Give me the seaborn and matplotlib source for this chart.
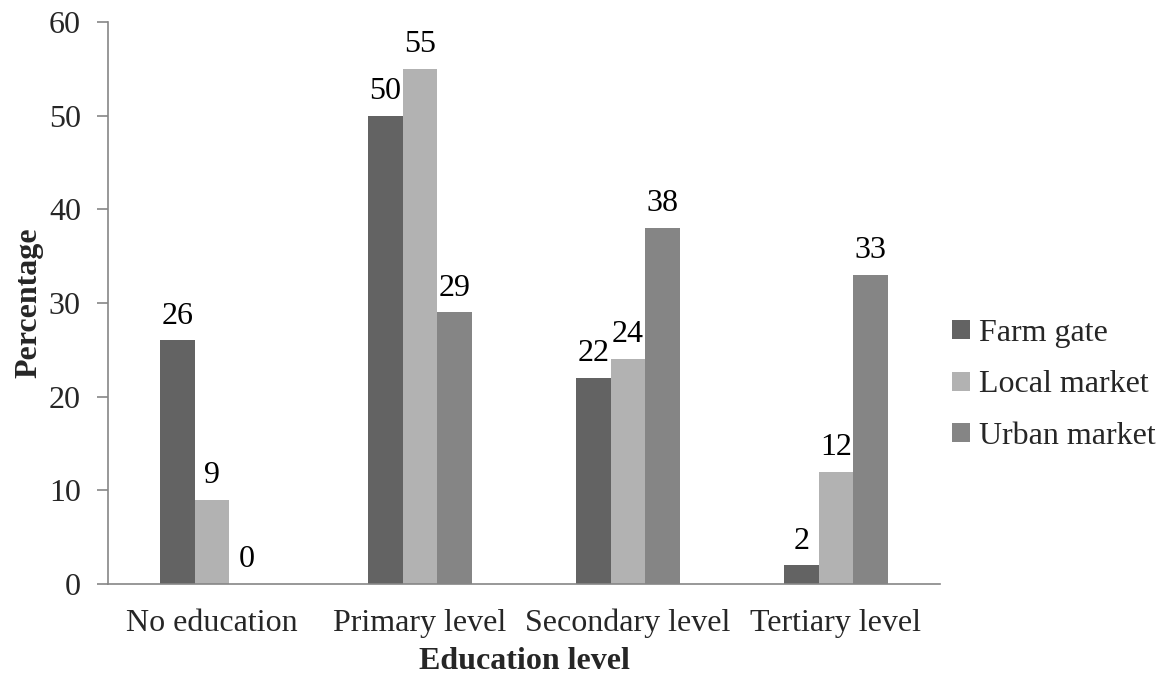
import matplotlib
matplotlib.use("Agg")
import matplotlib.pyplot as plt
import seaborn as sns
import pandas as pd

categories = ["No education", "Primary level", "Secondary level", "Tertiary level"]
farm_gate = [26, 50, 22, 2]
local_market = [9, 55, 24, 12]
urban_market = [0, 29, 38, 33]
series_names = ["Farm gate", "Local market", "Urban market"]
colors = ["#636363", "#b2b2b2", "#858585"]

rows = []
for name, vals in zip(series_names, [farm_gate, local_market, urban_market]):
    for cat, v in zip(categories, vals):
        rows.append({"Education level": cat, "Market": name, "Percentage": v})
df = pd.DataFrame(rows)

sns.set_style("white")
plt.rcParams["font.family"] = ["Liberation Serif", "DejaVu Serif"]

FS = 23

fig = plt.figure(figsize=(11.65, 6.79), dpi=100)
ax = fig.add_axes([108 / 1165, 1 - 584 / 679, 832 / 1165, 562 / 679])

sns.barplot(data=df, x="Education level", y="Percentage", hue="Market",
            order=categories, hue_order=series_names, palette=colors,
            width=0.5, saturation=1, errorbar=None, ax=ax, edgecolor="none",
            linewidth=0)

for cont in ax.containers:
    ax.bar_label(cont, labels=[f"{int(v)}" for v in cont.datavalues],
                 padding=7, fontsize=FS, color="black")

ax.set_ylim(0, 60)
ax.set_yticks(range(0, 61, 10))
ax.set_xlim(-0.5, 3.5)
ax.tick_params(axis="y", labelsize=FS, length=8, width=1.2, color="#868686",
               direction="out", left=True, pad=11.5)
ax.tick_params(axis="x", labelsize=FS, length=0, pad=18)
for side in ["top", "right"]:
    ax.spines[side].set_visible(False)
for side in ["left", "bottom"]:
    ax.spines[side].set_color("#868686")
    ax.spines[side].set_linewidth(1.2)

ax.set_xlabel("Education level", fontsize=FS, fontweight="bold", labelpad=6)
ax.set_ylabel("Percentage", fontsize=FS, fontweight="bold", labelpad=4)

leg = ax.legend(loc="center left", bbox_to_anchor=(952 / 1165, 1 - 385 / 679),
                bbox_transform=fig.transFigure, frameon=False,
                fontsize=FS, handlelength=0.55, handleheight=0.55,
                handletextpad=0.3, labelspacing=0.7, borderpad=0,
                borderaxespad=0)

fig.savefig("out.png", dpi=100)
